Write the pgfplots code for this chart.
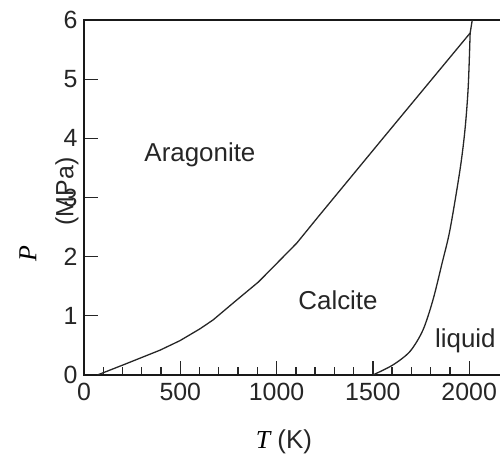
\documentclass[border=0pt]{standalone}
\usepackage{fontspec}
\setmainfont{Liberation Sans}
\newfontfamily\serifit{Liberation Serif}
\usepackage{pgfplots}
\pgfplotsset{compat=1.18}
\begin{document}
\begin{tikzpicture}
\begin{axis}[
  scale only axis, width=416bp, height=355bp,
  xmin=0, xmax=2160, ymin=0, ymax=6,
  axis line style={draw=none},
  xtick pos=left, ytick pos=left,
  tick align=inside,
  xtick={0,500,1000,1500,2000},
  minor x tick num=4,
  ytick={0,1,2,3,4,5,6},
  major tick length=14bp, minor tick length=8bp,
  every tick/.style={black!85, line width=1.3bp},
  /pgf/number format/assume math mode=true,
  /pgf/number format/1000 sep={},
  ticklabel style={font=\fontsize{25}{28}\selectfont, text=black!85},
  xticklabel style={yshift=-5bp},
  yticklabel style={xshift=-3bp},
  clip=false,
]
\draw[black!90, line width=1.6bp] (rel axis cs:1,1) -- (rel axis cs:0,1) -- (rel axis cs:0,0) -- (rel axis cs:1,0);
\addplot[black!85, line width=1.3bp] coordinates {
 (70,0) (203,0.17) (395,0.42) (498,0.58) (602,0.78) (670,0.93) (794,1.27) (905,1.57)
 (975,1.80) (1105,2.23) (1215,2.67) (1552,4.0) (2005,5.78)};
\addplot[black!85, line width=1.3bp, smooth, tension=0.5] coordinates {
 (1500,0) (1604,0.17) (1693,0.40) (1760,0.76) (1812,1.27) (1860,1.90)
 (1900,2.45) (1952,3.46) (1978,4.14) (1995,4.87) (2005,5.78)};
\addplot[black!85, line width=1.3bp] coordinates {(2005,5.78) (2016,6)};
\node[font=\fontsize{26}{30}\selectfont, text=black!85] at (axis cs:602,3.72) {Aragonite};
\node[font=\fontsize{26}{30}\selectfont, text=black!85] at (axis cs:1319,1.27) {Calcite};
\node[font=\fontsize{26}{30}\selectfont, text=black!85, anchor=west] at (axis cs:1805,0.57) {liquid};
\node[rotate=90, font=\fontsize{26}{30}\selectfont\serifit\itshape] at ([xshift=-56bp]axis cs:0,2.06) {P};
\node[rotate=90, font=\fontsize{25}{28}\selectfont, text=black!85] at ([xshift=-17bp]axis cs:0,3.1) {(MPa)};
\node[font=\fontsize{26}{30}\selectfont] at (axis cs:1038,-1.13) {{\serifit\itshape T}\ {\color{black!85}(K)}};
\end{axis}
\pgfresetboundingbox
\path ([shift={(-84bp,-88bp)}]current axis.south west) rectangle ([shift={(0bp,20bp)}]current axis.north east);
\end{tikzpicture}
\end{document}
